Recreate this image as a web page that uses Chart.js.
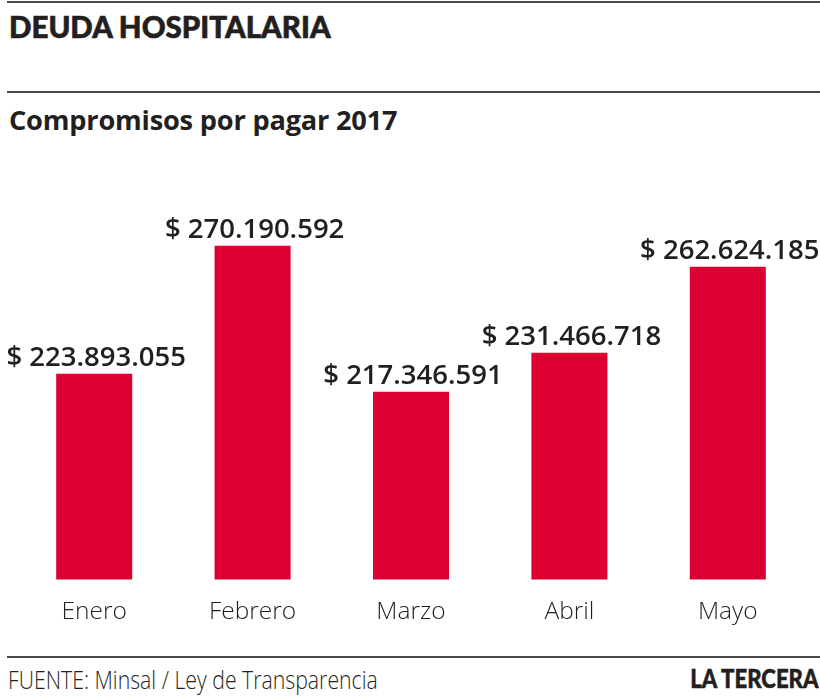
<!DOCTYPE html>
<html lang="es">
<head>
<meta charset="utf-8">
<script src="https://cdn.jsdelivr.net/npm/chart.js@4.4.0/dist/chart.umd.min.js"></script>
<style>
  body { margin: 0; background: #fff; width: 820px; height: 699px; position: relative; overflow: hidden; color: #231f20; font-family: 'Open Sans', sans-serif; }
  .rule { position: absolute; left: 7px; right: 0; height: 2px; background: #4a4a4a; }
  .txt { position: absolute; white-space: nowrap; }
  #title { left: 9px; top: 12px; font: 900 29.5px/29.5px Lato, sans-serif; -webkit-text-stroke: 0.6px #231f20; }
  #subtitle { left: 9px; top: 106px; font: 700 27.2px/27.2px 'Open Sans', sans-serif; letter-spacing: -0.2px; }
  #source { left: 8px; top: 667px; font: 300 25px/25px 'Open Sans', sans-serif; transform: scaleX(0.85); transform-origin: left top; }
  #brand { right: 1px; top: 664px; font: 900 27px/27px Lato, sans-serif; transform: scaleX(0.82); transform-origin: right top; -webkit-text-stroke: 0.5px #231f20; }
  #wrap { position: absolute; left: 0; top: 150px; width: 820px; height: 510px; }
</style>
</head>
<body>
<div class="rule" style="top:1px"></div>
<div class="txt" id="title">DEUDA HOSPITALARIA</div>
<div class="rule" style="top:91px"></div>
<div class="txt" id="subtitle">Compromisos por pagar 2017</div>
<div id="wrap"><canvas id="deudaChart"></canvas></div>
<div class="rule" style="top:656px"></div>
<div class="txt" id="source">FUENTE: Minsal / Ley de Transparencia</div>
<div class="txt" id="brand">LA TERCERA</div>
<script>
const months = ['Enero', 'Febrero', 'Marzo', 'Abril', 'Mayo'];
const debt = [223893055, 270190592, 217346591, 231466718, 262624185];
const valueLabels = ['$ 223.893.055', '$ 270.190.592', '$ 217.346.591', '$ 231.466.718', '$ 262.624.185'];

// value above each bar
const barValues = {
  id: 'barValues',
  afterDatasetsDraw(chart) {
    const ctx = chart.ctx;
    const meta = chart.getDatasetMeta(0);
    ctx.save();
    ctx.font = '600 27.5px "Open Sans", sans-serif';
    ctx.fillStyle = '#231f20';
    ctx.textAlign = 'center';
    ctx.textBaseline = 'alphabetic';
    meta.data.forEach((bar, i) => {
      ctx.fillText(valueLabels[i], bar.x + 2, bar.y - 8);
    });
    ctx.restore();
  }
};

const ctxDebt = document.getElementById('deudaChart').getContext('2d');
new Chart(ctxDebt, {
  type: 'bar',
  data: {
    labels: months,
    datasets: [{
      data: debt,
      backgroundColor: '#dc0032',
      barPercentage: 0.48,
      categoryPercentage: 1
    }]
  },
  options: {
    responsive: true,
    maintainAspectRatio: false,
    animation: false,
    layout: { padding: { top: 50, bottom: 15, left: 15, right: 13 } },
    plugins: { legend: { display: false }, tooltip: { enabled: false } },
    scales: {
      x: {
        grid: { display: false, drawTicks: false },
        border: { display: false },
        ticks: { padding: 18, color: '#231f20', font: { family: 'Open Sans', size: 24.5, weight: 300 } }
      },
      y: { display: false, min: 149300000, max: 286800000 }
    }
  },
  plugins: [barValues]
});
</script>
</body>
</html>
